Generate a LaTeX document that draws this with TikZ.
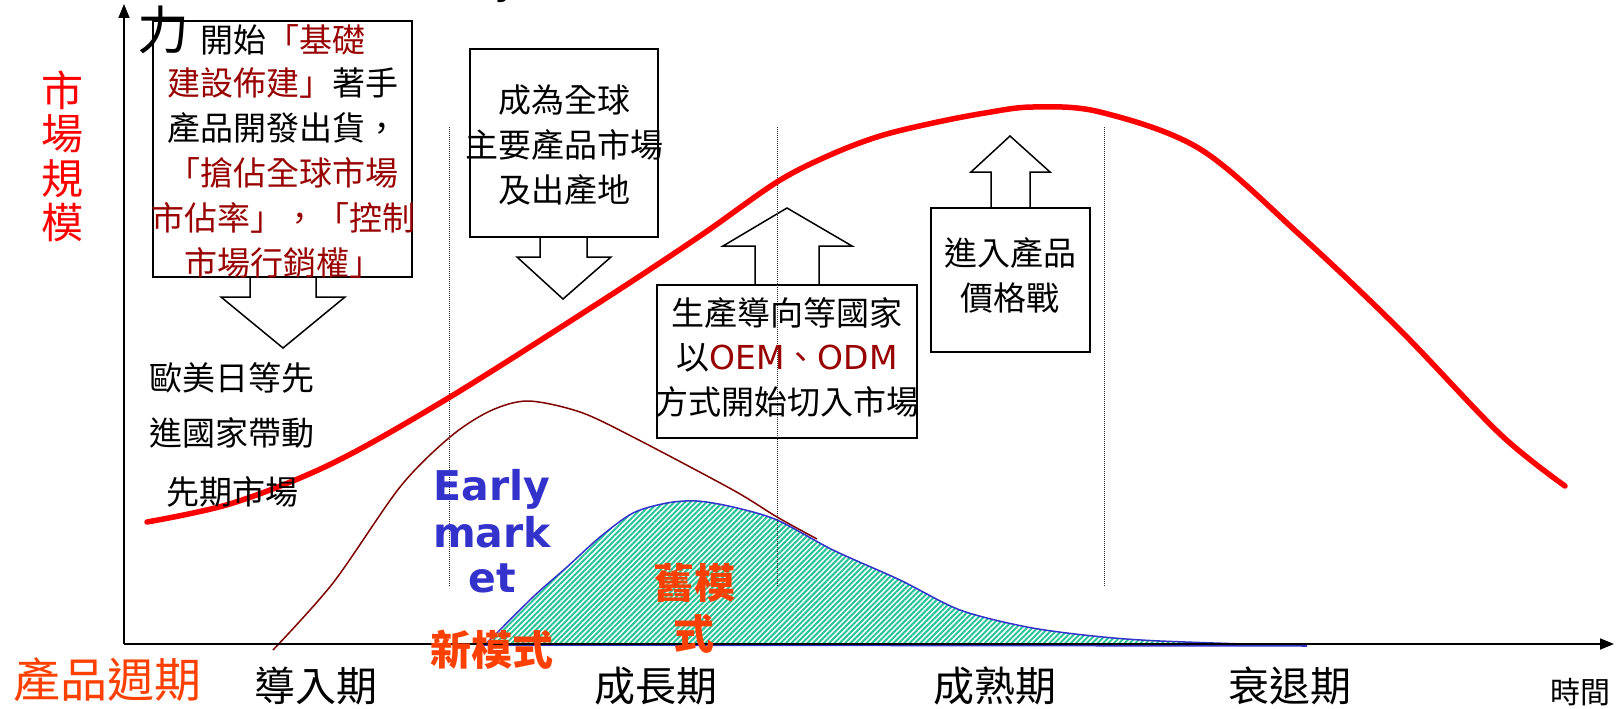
\documentclass[tikz,border=0pt]{standalone}
\usepackage{fontspec}
\setmainfont{Noto Sans CJK TC}
\newfontfamily\latinfont{DejaVu Sans}
\usetikzlibrary{arrows.meta,patterns.meta}
\definecolor{darkred}{RGB}{153,0,0}
\definecolor{bellred}{RGB}{128,0,0}
\definecolor{orangered}{RGB}{255,64,0}
\definecolor{earlyblue}{RGB}{51,51,204}
\definecolor{hatchgreen}{RGB}{38,196,150}
\newcommand\setfs[1]{\fontsize{#1}{#1}\selectfont}
\tikzset{
  txt/.style={inner sep=0pt, font=\setfs{33}},
  stagelabel/.style={inner sep=0pt, font=\setfs{41}},
  boxframe/.style={draw=black, line width=1.5pt},
  blockarrow/.style={draw=black, line width=1.5pt, line join=miter},
  divider/.style={densely dotted, line width=1pt, black!85},
  axisline/.style={line width=1.8pt, -{Triangle[length=14pt,width=11pt]}},
  bigcurve/.style={red, line width=5.5pt, line cap=round},
  bell/.style={bellred, line width=1.5pt},
  hatched/.style={draw=earlyblue, line width=1.5pt,
    pattern={Lines[angle=45,distance=3.8pt,line width=2pt]}, pattern color=hatchgreen},
  earlytxt/.style={inner sep=0pt, anchor=base, text=earlyblue, font=\latinfont\bfseries\setfs{41}},
  modeltxt/.style={inner sep=0pt, text=orangered, font=\bfseries\setfs{41}},
}
\begin{document}
\begin{tikzpicture}[x=1pt,y=-1pt]
\fill[white] (0,0) rectangle (1620,709);
\useasboundingbox (0,0) rectangle (1620,709);

% title fragment cut off at top
\node[inner sep=0pt, anchor=base west, font=\latinfont\setfs{44}] (titlefrag) at (494,-6) {y};

% hatched "old model" area
\path[hatched] plot[smooth] coordinates {(485,645) (533,597) (567,567) (600,537) (633,513) (667,503) (697,501) (733,507) (777,520) (833,550) (900,580) (960,610) (1027,627) (1093,636) (1160,641) (1307,646)} -- cycle;

% dark red bell curve
\draw[bell] plot[smooth] coordinates {(273,650) (333,583) (400,487) (450,437) (490,411) (528,401) (580,412) (633,437) (733,490) (777,517) (817,539)};

% axes
\coordinate (origin) at (124,644);
\coordinate (ytop) at (124,4);
\coordinate (xend) at (1614,644);
\draw[axisline] (origin) -- (ytop);
\draw[axisline] (origin) -- (xend);

% boxes
\draw[boxframe] (153,21) rectangle (412,277);
\draw[blockarrow] (250,277) -- (250,297) -- (221,297) -- (283,348) -- (345,297) -- (316,297) -- (316,277);
\draw[boxframe] (470,49) rectangle (658,237);
\draw[blockarrow] (540,237) -- (540,257) -- (517,257) -- (563,299) -- (611,257) -- (587,257) -- (587,237);
\draw[boxframe] (657,285) rectangle (917,438);
\draw[blockarrow] (755,285) -- (755,246) -- (723,246) -- (787,208) -- (852,246) -- (819,246) -- (819,285);
\draw[boxframe] (931,208) rectangle (1090,352);
\draw[blockarrow] (991,208) -- (991,172) -- (971,172) -- (1010,136) -- (1050,172) -- (1030,172) -- (1030,208);

% dotted dividers
\draw[divider] (449,127) -- (449,587);
\draw[divider] (777,127) -- (777,587);
\draw[divider] (1104,127) -- (1104,587);

% red market-size curve
\draw[bigcurve] plot[smooth, tension=0.55] coordinates {(147,522) (233,503) (333,463) (450,397) (600,302) (700,236) (777,182) (830,155) (880,136) (933,123) (985,113) (1033,107) (1100,112) (1200,149) (1300,235) (1400,330) (1500,434) (1565,486)};

% y-axis label
\node[inner sep=0pt, text=red, font=\setfs{42}] (ym1) at (62,90) {市};
\node[inner sep=0pt, text=red, font=\setfs{42}] (ym2) at (62,134) {場};
\node[inner sep=0pt, text=red, font=\setfs{42}] (ym3) at (62,179) {規};
\node[inner sep=0pt, text=red, font=\setfs{42}] (ym4) at (62,223) {模};
\node[inner sep=0pt, font=\setfs{52}] (li) at (163,30) {力};

% box A text
\node[txt] (a1) at (283,40) {開始\textcolor{darkred}{「基礎}};
\node[txt] (a2) at (283,83) {\textcolor{darkred}{建設佈建」}著手};
\node[txt] (a3) at (283,128) {產品開發出貨，};
\node[txt, text=darkred] (a4) at (283,173) {「搶佔全球市場};
\node[txt, text=darkred] (a5) at (283,218) {市佔率」，「控制};
\node[txt, text=darkred] (a6) at (283,263) {市場行銷權」};

% below box A
\node[txt] (e1) at (232,378) {歐美日等先};
\node[txt] (e2) at (232,433) {進國家帶動};
\node[txt] (e3) at (232,492) {先期市場};

% box B text
\node[txt] (b1) at (564,100) {成為全球};
\node[txt] (b2) at (564,145) {主要產品市場};
\node[txt] (b3) at (564,190) {及出產地};

% box C text
\node[txt] (c1) at (787,313) {生產導向等國家};
\node[txt] (c2) at (787,358) {以\textcolor{darkred}{\latinfont OEM}\textcolor{darkred}{、}\textcolor{darkred}{\latinfont ODM}};
\node[txt] (c3) at (787,402) {方式開始切入市場};

% box D text
\node[txt] (d1) at (1010,253) {進入產品};
\node[txt] (d2) at (1010,298) {價格戰};

% Early market
\node[earlytxt] (em1) at (492,500) {Early};
\node[earlytxt] (em2) at (492,547) {mark};
\node[earlytxt] (em3) at (492,592) {et};

% models
\node[modeltxt] (newm) at (492,650) {新模式};
\node[modeltxt] (oldm1) at (694,583) {舊模};
\node[modeltxt] (oldm2) at (694,634) {式};

% bottom labels
\node[inner sep=0pt, text=orangered, font=\setfs{47}] (cycle) at (107,680) {產品週期};
\node[stagelabel] (s1) at (316,686) {導入期};
\node[stagelabel] (s2) at (656,686) {成長期};
\node[stagelabel] (s3) at (995,686) {成熟期};
\node[stagelabel] (s4) at (1290,686) {衰退期};
\node[inner sep=0pt, font=\setfs{30}] (time) at (1580,692) {時間};
\end{tikzpicture}
\end{document}
